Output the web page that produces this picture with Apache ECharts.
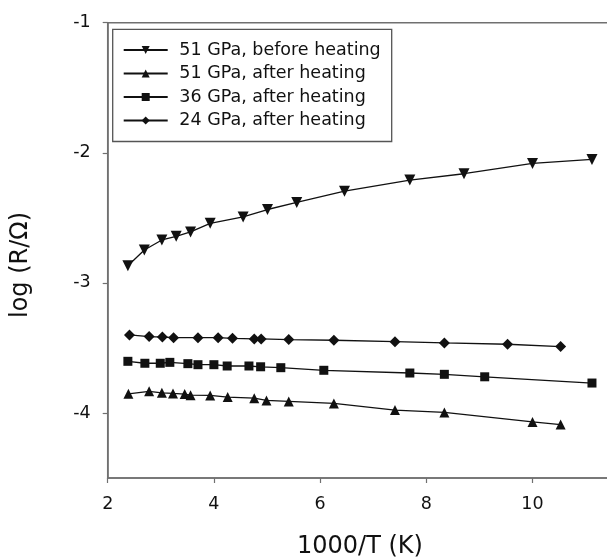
<!DOCTYPE html>
<html>
<head>
<meta charset="utf-8">
<script src="https://cdn.jsdelivr.net/npm/echarts@6/dist/echarts.min.js"></script>
<style>html,body{margin:0;padding:0;background:#fff}#c{width:607px;height:560px}</style>
</head>
<body>
<div id="c"></div>
<script>
var seriesNames = ['51 GPa, before heating', '51 GPa, after heating', '36 GPa, after heating', '24 GPa, after heating'];

var x51before = [2.38, 2.69, 3.02, 3.29, 3.56, 3.93, 4.55, 5.01, 5.56, 6.46, 7.69, 8.71, 10.0, 11.12];
var y51before = [-2.868, -2.747, -2.670, -2.642, -2.608, -2.542, -2.493, -2.436, -2.382, -2.295, -2.210, -2.161, -2.082, -2.051];

var x51after = [2.39, 2.78, 3.02, 3.23, 3.45, 3.56, 3.93, 4.26, 4.76, 4.99, 5.41, 6.26, 7.41, 8.34, 10.0, 10.53];
var y51after = [-3.853, -3.834, -3.845, -3.850, -3.855, -3.863, -3.865, -3.878, -3.886, -3.904, -3.911, -3.927, -3.978, -3.996, -4.069, -4.089];

var x36after = [2.38, 2.70, 2.99, 3.17, 3.51, 3.70, 4.00, 4.25, 4.66, 4.88, 5.26, 6.07, 7.69, 8.34, 9.10, 11.12];
var y36after = [-3.603, -3.618, -3.618, -3.611, -3.621, -3.629, -3.629, -3.639, -3.639, -3.645, -3.652, -3.672, -3.693, -3.703, -3.722, -3.770];

var x24after = [2.41, 2.78, 3.03, 3.24, 3.70, 4.08, 4.35, 4.76, 4.89, 5.41, 6.26, 7.41, 8.34, 9.53, 10.53];
var y24after = [-3.400, -3.413, -3.416, -3.421, -3.421, -3.421, -3.426, -3.431, -3.431, -3.436, -3.441, -3.452, -3.462, -3.472, -3.490];

var xTicks = [2, 4, 6, 8, 10, 12];
var yTicks = [-4, -3, -2, -1];

function zip(xs, ys) { return xs.map(function (x, i) { return [x, ys[i]]; }); }

var FONT = 'DejaVu Sans';
var AXIS_COLOR = '#707070';
var LINE_COLOR = '#111';

var chart = echarts.init(document.getElementById('c'), null, { renderer: 'canvas' });

function lineSeries(name, data, symbol, size, rotate) {
  return {
    name: name,
    type: 'line',
    data: data,
    symbol: symbol,
    symbolSize: size,
    symbolRotate: rotate || 0,
    showAllSymbol: true,
    animation: false,
    lineStyle: { color: LINE_COLOR, width: 1.3 },
    itemStyle: { color: LINE_COLOR, borderColor: LINE_COLOR, borderWidth: 0 },
    emphasis: { disabled: true }
  };
}

chart.setOption({
  animation: false,
  backgroundColor: '#fff',
  grid: {
    left: 107.7, top: 22.7, bottom: 82, right: -31.7,
    outerBoundsMode: 'none', containLabel: false,
    show: true, borderColor: AXIS_COLOR, borderWidth: 1.5, backgroundColor: 'transparent'
  },
  legend: {
    orient: 'vertical',
    left: 112.7, top: 29.3,
    data: seriesNames,
    borderColor: '#555', borderWidth: 1.3,
    padding: [10.7, 11, 11, 10],
    itemWidth: 44, itemHeight: 10, itemGap: 3.5,
    selectedMode: false,
    textStyle: { fontFamily: FONT, fontSize: 17.5, color: '#111', lineHeight: 20, padding: [0, 0, 0, 6.6] }
  },
  xAxis: {
    type: 'value', min: xTicks[0], max: xTicks[xTicks.length - 1], interval: 2,
    axisLine: { show: true, lineStyle: { color: AXIS_COLOR, width: 1.5 } },
    axisTick: { show: true, inside: false, length: 5, lineStyle: { color: AXIS_COLOR, width: 1.2 } },
    axisLabel: { margin: 17, fontFamily: FONT, fontSize: 17.5, color: '#111', showMaxLabel: true },
    splitLine: { show: false }
  },
  yAxis: {
    type: 'value', min: -4.5, max: -1,
    axisLine: { show: true, lineStyle: { color: AXIS_COLOR, width: 1.5 } },
    axisTick: { show: true, inside: false, length: 5, customValues: yTicks, lineStyle: { color: AXIS_COLOR, width: 1.2 } },
    axisLabel: { margin: 17, fontFamily: FONT, fontSize: 17.5, color: '#111', customValues: yTicks },
    splitLine: { show: false }
  },
  graphic: [
    { type: 'text', left: 297, top: 535,
      style: { text: '1000/T (K)', font: '24px "' + FONT + '"', fill: '#111' } },
    { type: 'text', x: 21, y: 265, rotation: Math.PI / 2,
      style: { text: 'log (R/Ω)', font: '24px "' + FONT + '"', fill: '#111', align: 'center', verticalAlign: 'middle' } }
  ],
  series: [
    lineSeries(seriesNames[0], zip(x51before, y51before), 'triangle', 11, 180),
    lineSeries(seriesNames[1], zip(x51after, y51after), 'triangle', 10),
    lineSeries(seriesNames[2], zip(x36after, y36after), 'rect', 9),
    lineSeries(seriesNames[3], zip(x24after, y24after), 'diamond', 11)
  ]
});
</script>
</body>
</html>
